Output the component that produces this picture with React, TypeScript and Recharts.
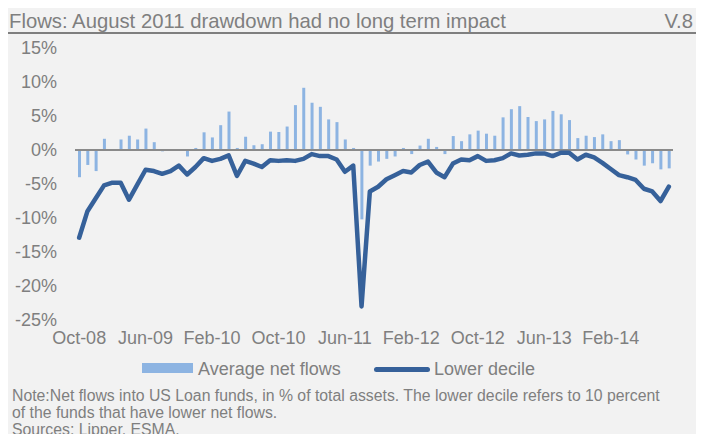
import React from 'react';
import { ComposedChart, Bar, Line, XAxis, YAxis, ReferenceLine } from 'recharts';

// monthly, Oct-08 .. Sep-14
const months = [
  'Oct-08', 'Nov-08', 'Dec-08',
  'Jan-09', 'Feb-09', 'Mar-09', 'Apr-09', 'May-09', 'Jun-09', 'Jul-09', 'Aug-09', 'Sep-09', 'Oct-09', 'Nov-09', 'Dec-09',
  'Jan-10', 'Feb-10', 'Mar-10', 'Apr-10', 'May-10', 'Jun-10', 'Jul-10', 'Aug-10', 'Sep-10', 'Oct-10', 'Nov-10', 'Dec-10',
  'Jan-11', 'Feb-11', 'Mar-11', 'Apr-11', 'May-11', 'Jun-11', 'Jul-11', 'Aug-11', 'Sep-11', 'Oct-11', 'Nov-11', 'Dec-11',
  'Jan-12', 'Feb-12', 'Mar-12', 'Apr-12', 'May-12', 'Jun-12', 'Jul-12', 'Aug-12', 'Sep-12', 'Oct-12', 'Nov-12', 'Dec-12',
  'Jan-13', 'Feb-13', 'Mar-13', 'Apr-13', 'May-13', 'Jun-13', 'Jul-13', 'Aug-13', 'Sep-13', 'Oct-13', 'Nov-13', 'Dec-13',
  'Jan-14', 'Feb-14', 'Mar-14', 'Apr-14', 'May-14', 'Jun-14', 'Jul-14', 'Aug-14', 'Sep-14',
];

const avgNetFlows = [
  -4.0, -2.2, -3.1,
  1.65, 0.0, 1.55, 2.1, 1.55, 3.15, 1.15, -0.2, 0.0, 0.0, -0.95, 0.3,
  2.6, 1.85, 3.65, 5.65, 0.3, 1.95, 0.7, 0.85, 2.7, 2.65, 3.45, 6.6,
  9.15, 6.95, 6.35, 4.5, 4.1, 1.55, 0.3, -10.2, -2.3, -1.7, -1.3, -0.95,
  0.3, -0.6, 0.65, 1.65, 0.45, -0.6, 2.05, 1.3, 2.3, 2.85, 2.4, 2.1,
  4.8, 6.0, 6.45, 4.85, 4.25, 4.5, 5.75, 5.25, 4.4, 1.75, 2.1, 1.9,
  2.3, 1.3, 1.45, -0.65, -1.4, -2.3, -1.95, -2.85, -2.7,
];

const lowerDecile = [
  -12.9, -9.0, -7.1,
  -5.2, -4.8, -4.8, -7.3, -5.1, -2.9, -3.1, -3.5, -3.1, -2.3, -3.6, -2.5,
  -1.2, -1.6, -1.3, -0.8, -3.8, -1.6, -2.0, -2.5, -1.5, -1.6, -1.5, -1.6,
  -1.3, -0.6, -0.9, -0.9, -1.4, -3.2, -2.3, -23.0, -6.1, -5.4, -4.3, -3.7,
  -3.1, -3.3, -2.2, -1.7, -3.3, -4.0, -2.0, -1.4, -1.5, -0.9, -1.6, -1.5,
  -1.2, -0.5, -0.8, -0.7, -0.5, -0.5, -0.9, -0.4, -0.4, -1.4, -0.7, -1.1,
  -1.9, -2.8, -3.7, -4.0, -4.4, -5.7, -6.1, -7.5, -5.4,
];

const yTicks = [-25, -20, -15, -10, -5, 0, 5, 10, 15];

const data = months.map((m, i) => ({ month: m, avg: avgNetFlows[i], low: lowerDecile[i] }));

const GREY = '#7f7f7f';
const BAR = '#8db4e2';
const LINE = '#36619a';
const FONT = '"Liberation Sans", Arial, sans-serif';

export default function App() {
  return (
    <div style={{ position: 'relative', width: 696, height: 426, background: '#f2f2f2', overflow: 'hidden', fontFamily: FONT, color: GREY }}>
      <div style={{ position: 'absolute', left: 1, top: 3, fontSize: 20.3, lineHeight: '20px', whiteSpace: 'nowrap' }}>
        Flows: August 2011 drawdown had no long term impact
      </div>
      <div style={{ position: 'absolute', right: 11, top: 3, fontSize: 20.3, lineHeight: '20px' }}>V.8</div>
      <div style={{ position: 'absolute', left: 0, top: 24, width: 696, height: 2, background: GREY }} />

      <div style={{ position: 'absolute', left: 0, top: 0 }}>
        <ComposedChart width={696} height={345} data={data} margin={{ top: 40, right: 31, bottom: 0, left: 0 }} barCategoryGap={0}>
          <XAxis
            dataKey="month"
            interval={7}
            axisLine={false}
            tickLine={false}
            height={33}
            tickMargin={5}
            tick={{ fill: GREY, fontSize: 18, fontFamily: FONT }}
          />
          <YAxis
            domain={[-25, 15]}
            ticks={yTicks}
            tickFormatter={(v: number) => `${v}%`}
            axisLine={false}
            tickLine={false}
            width={67}
            tickMargin={12}
            tick={{ fill: GREY, fontSize: 18, fontFamily: FONT }}
          />
          <Bar dataKey="avg" fill={BAR} barSize={3} isAnimationActive={false} />
          <ReferenceLine y={0} stroke="#8a8a8a" strokeWidth={2} />
          <Line dataKey="low" stroke={LINE} strokeWidth={4.5} dot={false} type="linear" strokeLinejoin="round" strokeLinecap="round" isAnimationActive={false} />
        </ComposedChart>
      </div>

      {/* legend */}
      <div style={{ position: 'absolute', left: 134, top: 355, width: 51, height: 10, background: BAR }} />
      <div style={{ position: 'absolute', left: 190, top: 352, fontSize: 18, lineHeight: '18px', whiteSpace: 'nowrap' }}>Average net flows</div>
      <div style={{ position: 'absolute', left: 366, top: 359, width: 56, height: 5, borderRadius: 3, background: LINE }} />
      <div style={{ position: 'absolute', left: 426, top: 352, fontSize: 18, lineHeight: '18px', whiteSpace: 'nowrap' }}>Lower decile</div>

      <div style={{ position: 'absolute', left: 4, top: 379, fontSize: 15.8, lineHeight: '17px', width: 690 }}>
        <div style={{ whiteSpace: 'nowrap' }}>Note:Net flows into US Loan funds, in % of total assets. The lower decile refers to 10 percent</div>
        <div>of the funds that have lower net flows.</div>
        <div>Sources: Lipper, ESMA.</div>
      </div>
    </div>
  );
}
